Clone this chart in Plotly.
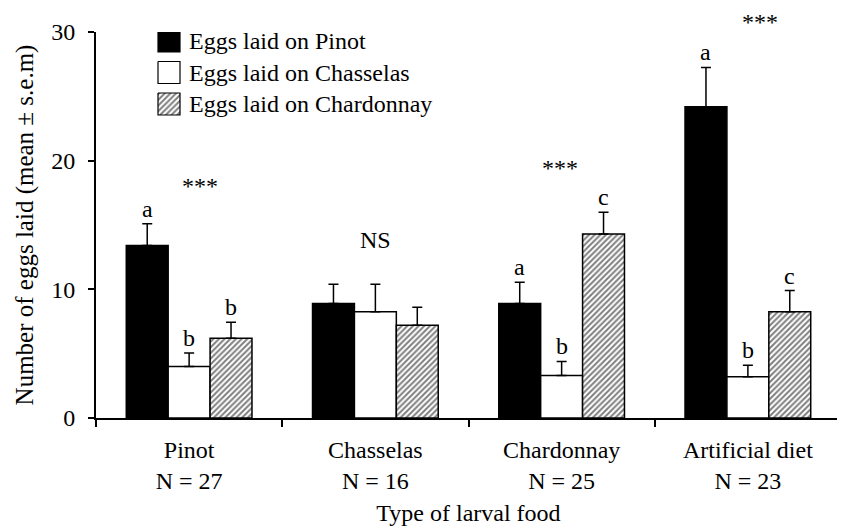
import plotly.graph_objects as go

# ---- data ----
foods = ["Pinot", "Chasselas", "Chardonnay", "Artificial diet"]
n_values = [27, 16, 25, 23]

pinot_mean = [13.4, 8.9, 8.9, 24.2]
pinot_sem = [1.7, 1.5, 1.65, 3.05]
chasselas_mean = [4.0, 8.25, 3.3, 3.2]
chasselas_sem = [1.05, 2.15, 1.1, 0.9]
chardonnay_mean = [6.2, 7.2, 14.3, 8.25]
chardonnay_sem = [1.25, 1.4, 1.7, 1.65]

pinot_letters = ["a", "", "a", "a"]
chasselas_letters = ["b", "", "b", "b"]
chardonnay_letters = ["b", "", "c", "c"]

signif_labels = ["***", "NS", "***", "***"]
signif_y = [18.0, 13.8, 19.4, 30.8]
signif_xshift = [11, 0, -2, 12]

y_ticks = [0, 10, 20, 30]
Y_MAX = 30

# ---- style / layout ----
FONT = "Liberation Serif, Times New Roman, serif"
FS = 24
PAGE = 8                     # default body margin of the html page
W, H = 845 - PAGE, 532 - PAGE
PLOT_X0, PLOT_X1, PLOT_Y0, PLOT_Y1 = 96, 841, 32, 418   # on-screen plot area
L, T = PLOT_X0 - PAGE, PLOT_Y0 - PAGE
R, B = W - (PLOT_X1 - PAGE), H - (PLOT_Y1 - PAGE)
categories = [f"{f}<br>N = {n}" for f, n in zip(foods, n_values)]
bargap = 0.325
bar_w = (1 - bargap) / 3
hatch = dict(shape="/", fgcolor="black", bgcolor="white", size=4, solidity=0.5)

series = [
    ("Eggs laid on Pinot", pinot_mean, pinot_sem, pinot_letters,
     dict(color="black"), dict(fillcolor="black")),
    ("Eggs laid on Chasselas", chasselas_mean, chasselas_sem, chasselas_letters,
     dict(color="white"), dict(fillcolor="white")),
    ("Eggs laid on Chardonnay", chardonnay_mean, chardonnay_sem, chardonnay_letters,
     dict(color="white", pattern=hatch), dict(fillcolor="white", fillpattern=hatch)),
]

fig = go.Figure()
for k, (name, mean, sem, letters, marker, _) in enumerate(series):
    m = dict(marker)
    m["line"] = dict(color="black", width=1.5)
    fig.add_trace(go.Bar(
        x=categories, y=mean, name=name, marker=m, showlegend=False,
        error_y=dict(type="data", array=sem, arrayminus=[0] * len(sem),
                     symmetric=False, color="black", thickness=1.5, width=5),
    ))

# custom legend (screen-pixel coordinates on a hidden overlay axis)
LEG_X0, LEG_SIZE, LEG_Y0, LEG_STEP = 158, 22, 30, 31.5
annotations = []
for k, (name, *_rest, fillspec) in enumerate(series):
    y0 = LEG_Y0 + k * LEG_STEP
    y1 = y0 + LEG_SIZE
    x0, x1 = LEG_X0, LEG_X0 + LEG_SIZE
    fig.add_trace(go.Scatter(
        x=[x0, x1, x1, x0, x0], y=[y0, y0, y1, y1, y0],
        xaxis="x2", yaxis="y2", mode="lines", fill="toself",
        line=dict(color="black", width=1.2), showlegend=False,
        hoverinfo="skip", **fillspec))
    annotations.append(dict(
        x=x1 + 7, y=(y0 + y1) / 2, xref="x2", yref="y2", text=name,
        showarrow=False, xanchor="left", yanchor="middle",
        font=dict(family=FONT, size=FS, color="black")))

for k, (name, mean, sem, letters, *_r) in enumerate(series):
    for i, (mv, sv, lt) in enumerate(zip(mean, sem, letters)):
        if lt:
            annotations.append(dict(
                x=i + (k - 1) * bar_w, y=mv + sv, xref="x", yref="y",
                text=lt, showarrow=False, yanchor="bottom", yshift=0,
                font=dict(family=FONT, size=FS, color="black")))
for i, (lab, yv, xs) in enumerate(zip(signif_labels, signif_y, signif_xshift)):
    annotations.append(dict(
        x=i, y=yv / Y_MAX, xref="x", yref="y domain", text=lab, showarrow=False,
        yanchor="middle", xshift=xs,
        font=dict(family=FONT, size=FS, color="black")))

fig.update_layout(
    width=W, height=H,
    margin=dict(l=L, r=R, t=T, b=B, autoexpand=False),
    paper_bgcolor="white", plot_bgcolor="white",
    barmode="group", bargap=bargap, bargroupgap=0,
    font=dict(family=FONT, size=FS, color="black"),
    showlegend=False,
    annotations=annotations,
    xaxis=dict(type="category", tickson="boundaries", ticks="outside",
               ticklen=7, tickwidth=2, tickcolor="black",
               showline=True, linecolor="black", linewidth=2,
               showgrid=False, zeroline=False, ticklabelstandoff=9,
               title=dict(text="Type of larval food", standoff=11,
                          font=dict(family=FONT, size=FS)),
               tickfont=dict(family=FONT, size=FS)),
    yaxis=dict(range=[0, Y_MAX], tickvals=y_ticks, ticks="outside",
               ticklen=6, tickwidth=2, tickcolor="black",
               showline=True, linecolor="black", linewidth=2,
               showgrid=False, zeroline=False, ticklabelstandoff=8,
               title=dict(text="Number of eggs laid (mean ± s.e.m)", standoff=10,
                          font=dict(family=FONT, size=25)),
               tickfont=dict(family=FONT, size=FS)),
    xaxis2=dict(overlaying="x", range=[PLOT_X0, PLOT_X1], visible=False, fixedrange=True),
    yaxis2=dict(overlaying="y", range=[PLOT_Y1, PLOT_Y0], visible=False, fixedrange=True),
)

fig.write_html("out.html")
